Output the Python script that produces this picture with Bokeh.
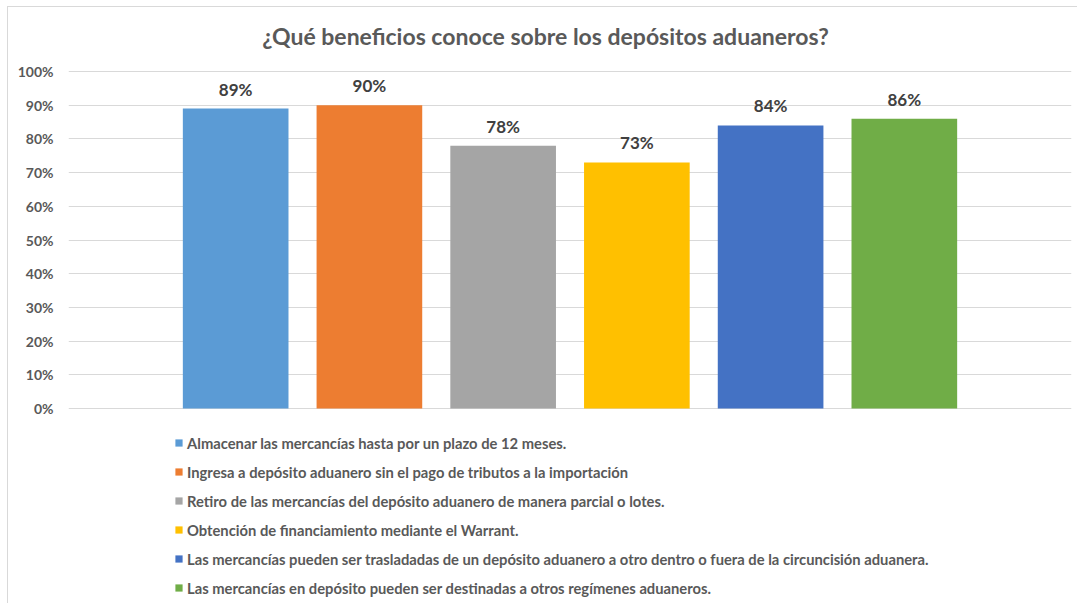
from bokeh.plotting import figure
from bokeh.models import (ColumnDataSource, Range1d, FixedTicker, PrintfTickFormatter,
                          LabelSet, Legend, LegendItem, Label)
from bokeh.core.properties import value
from bokeh.embed import file_html
from bokeh.resources import INLINE

# ---- data ----
categories = [
    "Almacenar las mercancías hasta por un plazo de 12 meses.",
    "Ingresa a depósito aduanero sin el pago de tributos a la importación",
    "Retiro de las mercancías del depósito aduanero de manera parcial o lotes.",
    "Obtención de financiamiento mediante el Warrant.",
    "Las mercancías pueden ser trasladadas de un depósito aduanero a otro dentro o fuera de la circuncisión aduanera.",
    "Las mercancías en depósito pueden ser destinadas a otros regímenes aduaneros.",
]
values = [89, 90, 78, 73, 84, 86]
colors = ["#5B9BD5", "#ED7D31", "#A5A5A5", "#FFC000", "#4472C4", "#70AD47"]
y_ticks = [0, 10, 20, 30, 40, 50, 60, 70, 80, 90, 100]
title_text = "¿Qué beneficios conoce sobre los depósitos aduaneros?"

FONT = "Lato"
TXT = "#595959"

source = ColumnDataSource(dict(
    x=list(range(len(values))),
    top=values,
    color=colors,
    label=categories,
    txt=[f"{v}%" for v in values],
))

# layout: the frame fills the canvas vertically; 0%..100% occupy the middle band,
# leaving room above for the title and below for the legend.
CANVAS_H = 597
PX_PER_UNIT = 3.37
Y_TOP = 401 / PX_PER_UNIT
Y_BOT = -(CANVAS_H - 401) / PX_PER_UNIT

p = figure(width=1070, height=CANVAS_H, output_backend="svg", toolbar_location=None,
           x_range=Range1d(-1.25, 6.25), y_range=Range1d(Y_BOT, Y_TOP),
           x_axis_location=None, min_border_left=60, min_border_right=7,
           min_border_top=0, min_border_bottom=0, title=None)
p.margin = (6, 0, 0, 7)
p.styles = {"border-left": "1px solid #d9d9d9", "border-top": "1px solid #d9d9d9"}
p.outline_line_color = None
p.background_fill_color = "white"
p.border_fill_color = "white"

title = Label(x=477, y=569, x_units="screen", y_units="screen", text=title_text,
              text_align="center", text_baseline="alphabetic", text_font=FONT,
              text_font_size="23px", text_font_style="bold", text_color=TXT)
p.add_layout(title)

r = p.vbar(x="x", top="top", width=0.79, bottom=0, source=source,
           fill_color="color", line_color=None)

yax = p.yaxis[0]
yax.ticker = FixedTicker(ticks=y_ticks)
yax.formatter = PrintfTickFormatter(format="%d%%")
yax.axis_line_color = None
yax.major_tick_line_color = None
yax.minor_tick_line_color = None
yax.major_tick_out = 0
yax.major_tick_in = 0
yax.major_label_standoff = 15
yax.major_label_text_font = FONT
yax.major_label_text_font_size = "14px"
yax.major_label_text_font_style = "bold"
yax.major_label_text_color = TXT

p.xgrid.grid_line_color = None
p.ygrid.ticker = FixedTicker(ticks=y_ticks)
p.ygrid.grid_line_color = "#d9d9d9"
p.ygrid.grid_line_width = 1

labels = LabelSet(x="x", y="top", text="txt", source=source, text_align="center",
                  text_baseline="alphabetic", y_offset=13, text_font=value(FONT),
                  text_font_size=value("17px"), text_font_style="bold", text_color="#404040")
p.add_layout(labels)

items = [LegendItem(label=categories[i], renderers=[r], index=i) for i in range(len(categories))]
legend = Legend(items=items, location=(106, 6), orientation="vertical",
                padding=0, margin=0, border_line_color=None, background_fill_alpha=0,
                glyph_width=9, glyph_height=9, label_height=21, spacing=8,
                label_standoff=4, label_text_font=FONT, label_text_font_size="14.75px",
                label_text_font_style="bold", label_text_color=TXT)
p.add_layout(legend, "center")

open("out.html", "w").write(file_html(p, INLINE))
